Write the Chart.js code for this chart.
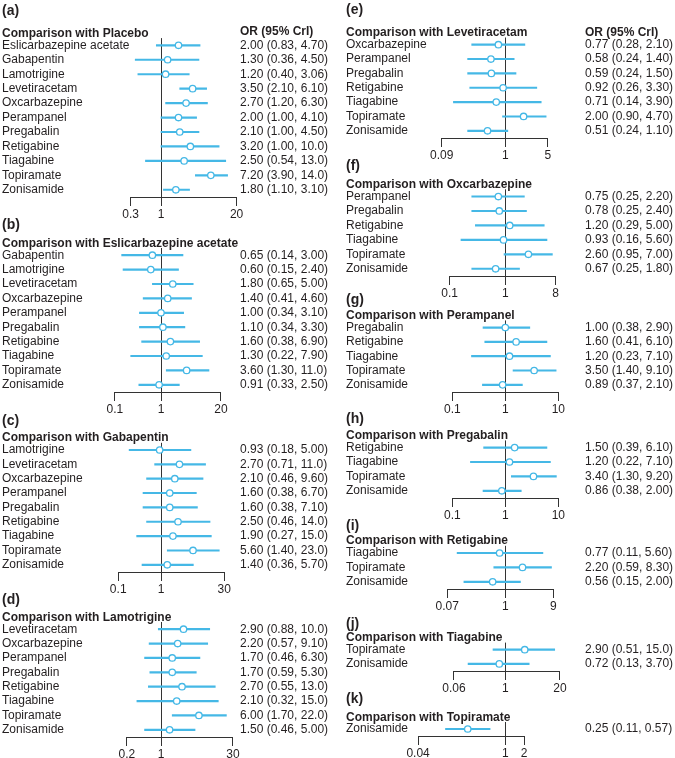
<!DOCTYPE html>
<html><head><meta charset="utf-8">
<script src="https://cdn.jsdelivr.net/npm/chart.js@4/dist/chart.umd.min.js"></script>
<style>
html,body{margin:0;padding:0;background:#fff;}
#fig{position:relative;width:675px;height:758px;overflow:hidden;background:#fff;}
#fig canvas{position:absolute;}
</style></head><body><div id="fig"></div>
<script>
// ---------- DATA ----------
const panelLetters = ['(a)','(b)','(c)','(d)','(e)','(f)','(g)','(h)','(i)','(j)','(k)'];
const comparators = ['Placebo','Eslicarbazepine acetate','Gabapentin','Lamotrigine','Levetiracetam','Oxcarbazepine','Perampanel','Pregabalin','Retigabine','Tiagabine','Topiramate'];
const orHeaderText = 'OR (95% CrI)';

const drugsA = ['Eslicarbazepine acetate','Gabapentin','Lamotrigine','Levetiracetam','Oxcarbazepine','Perampanel','Pregabalin','Retigabine','Tiagabine','Topiramate','Zonisamide'];
const orA   = [2.00, 1.30, 1.20, 3.50, 2.70, 2.00, 2.10, 3.20, 2.50, 7.20, 1.80];
const lowA  = [0.83, 0.36, 0.40, 2.10, 1.20, 1.00, 1.00, 1.00, 0.54, 3.90, 1.10];
const highA = [4.70, 4.50, 3.06, 6.10, 6.30, 4.10, 4.50, 10.0, 13.0, 14.0, 3.10];
const ticksA = [0.3, 1, 20];

const drugsB = ['Gabapentin','Lamotrigine','Levetiracetam','Oxcarbazepine','Perampanel','Pregabalin','Retigabine','Tiagabine','Topiramate','Zonisamide'];
const orB   = [0.65, 0.60, 1.80, 1.40, 1.00, 1.10, 1.60, 1.30, 3.60, 0.91];
const lowB  = [0.14, 0.15, 0.65, 0.41, 0.34, 0.34, 0.38, 0.22, 1.30, 0.33];
const highB = [3.00, 2.40, 5.00, 4.60, 3.10, 3.30, 6.90, 7.90, 11.0, 2.50];
const ticksB = [0.1, 1, 20];

const drugsC = ['Lamotrigine','Levetiracetam','Oxcarbazepine','Perampanel','Pregabalin','Retigabine','Tiagabine','Topiramate','Zonisamide'];
const orC   = [0.93, 2.70, 2.10, 1.60, 1.60, 2.50, 1.90, 5.60, 1.40];
const lowC  = [0.18, 0.71, 0.46, 0.38, 0.38, 0.46, 0.27, 1.40, 0.36];
const highC = [5.00, 11.0, 9.60, 6.70, 7.10, 14.0, 15.0, 23.0, 5.70];
const ticksC = [0.1, 1, 30];

const drugsD = ['Levetiracetam','Oxcarbazepine','Perampanel','Pregabalin','Retigabine','Tiagabine','Topiramate','Zonisamide'];
const orD   = [2.90, 2.20, 1.70, 1.70, 2.70, 2.10, 6.00, 1.50];
const lowD  = [0.88, 0.57, 0.46, 0.59, 0.55, 0.32, 1.70, 0.46];
const highD = [10.0, 9.10, 6.30, 5.30, 13.0, 15.0, 22.0, 5.00];
const ticksD = [0.2, 1, 30];

const drugsE = ['Oxcarbazepine','Perampanel','Pregabalin','Retigabine','Tiagabine','Topiramate','Zonisamide'];
const orE   = [0.77, 0.58, 0.59, 0.92, 0.71, 2.00, 0.51];
const lowE  = [0.28, 0.24, 0.24, 0.26, 0.14, 0.90, 0.24];
const highE = [2.10, 1.40, 1.50, 3.30, 3.90, 4.70, 1.10];
const ticksE = [0.09, 1, 5];

const drugsF = ['Perampanel','Pregabalin','Retigabine','Tiagabine','Topiramate','Zonisamide'];
const orF   = [0.75, 0.78, 1.20, 0.93, 2.60, 0.67];
const lowF  = [0.25, 0.25, 0.29, 0.16, 0.95, 0.25];
const highF = [2.20, 2.40, 5.00, 5.60, 7.00, 1.80];
const ticksF = [0.1, 1, 8];

const drugsG = ['Pregabalin','Retigabine','Tiagabine','Topiramate','Zonisamide'];
const orG   = [1.00, 1.60, 1.20, 3.50, 0.89];
const lowG  = [0.38, 0.41, 0.23, 1.40, 0.37];
const highG = [2.90, 6.10, 7.10, 9.10, 2.10];
const ticksG = [0.1, 1, 10];

const drugsH = ['Retigabine','Tiagabine','Topiramate','Zonisamide'];
const orH   = [1.50, 1.20, 3.40, 0.86];
const lowH  = [0.39, 0.22, 1.30, 0.38];
const highH = [6.10, 7.10, 9.20, 2.00];
const ticksH = [0.1, 1, 10];

const drugsI = ['Tiagabine','Topiramate','Zonisamide'];
const orI   = [0.77, 2.20, 0.56];
const lowI  = [0.11, 0.59, 0.15];
const highI = [5.60, 8.30, 2.00];
const ticksI = [0.07, 1, 9];

const drugsJ = ['Topiramate','Zonisamide'];
const orJ   = [2.90, 0.72];
const lowJ  = [0.51, 0.13];
const highJ = [15.0, 3.70];
const ticksJ = [0.06, 1, 20];

const drugsK = ['Zonisamide'];
const orK   = [0.25];
const lowK  = [0.11];
const highK = [0.57];
const ticksK = [0.04, 1, 2];

// ---------- LAYOUT / STYLE ----------
const FONT = "'Liberation Sans', Arial, Helvetica, sans-serif";
const BLUE = '#45B8E6';
const INK = '#231F20';
const AXIS = '#333333';
const BAND = 14.4, AXW = 106, XH = 28;
const COLS = [
  {left: 0,   width: 335, padL: 2,  oneX: 161,   orX: 240},
  {left: 335, width: 340, padL: 11, oneX: 170.3, orX: 250}
];
const PANELS = [
  {col:0, labelY:10,    headerY:32,    axisY:196.5, showOR:true,  d:[drugsA,orA,lowA,highA,ticksA]},
  {col:0, labelY:221.7, headerY:240,   axisY:391.7, showOR:false, d:[drugsB,orB,lowB,highB,ticksB]},
  {col:0, labelY:418.3, headerY:435,   axisY:572.7, showOR:false, d:[drugsC,orC,lowC,highC,ticksC]},
  {col:0, labelY:596.5, headerY:613.3, axisY:736.7, showOR:false, d:[drugsD,orD,lowD,highD,ticksD]},
  {col:1, labelY:10,    headerY:32.3,  axisY:138.3, showOR:true,  d:[drugsE,orE,lowE,highE,ticksE]},
  {col:1, labelY:163.3, headerY:181.7, axisY:276,   showOR:false, d:[drugsF,orF,lowF,highF,ticksF]},
  {col:1, labelY:298.3, headerY:314,   axisY:392.7, showOR:false, d:[drugsG,orG,lowG,highG,ticksG]},
  {col:1, labelY:418.3, headerY:434.3, axisY:498.3, showOR:false, d:[drugsH,orH,lowH,highH,ticksH]},
  {col:1, labelY:523.3, headerY:537.7, axisY:589.3, showOR:false, d:[drugsI,orI,lowI,highI,ticksI]},
  {col:1, labelY:623.3, headerY:637.3, axisY:671.7, showOR:false, d:[drugsJ,orJ,lowJ,highJ,ticksJ]},
  {col:1, labelY:698.3, headerY:716,   axisY:736.7, showOR:false, d:[drugsK,orK,lowK,highK,ticksK]}
];

function fmt(v){ return v >= 10 ? v.toFixed(1) : v.toFixed(2); }

const orHeaderPlugin = {
  id: 'orHeader',
  afterDraw(chart, args, opts) {
    if (!opts || !opts.show) return;
    const ctx = chart.ctx;
    ctx.save();
    ctx.font = 'bold 12px ' + FONT;
    ctx.fillStyle = INK;
    ctx.textAlign = 'left';
    ctx.textBaseline = 'middle';
    ctx.fillText(opts.text, opts.x, opts.y);
    ctx.restore();
  }
};

const fig = document.getElementById('fig');

PANELS.forEach((sp, idx) => {
  const [drugs, or, low, high, ticks] = sp.d;
  const col = COLS[sp.col];
  const n = drugs.length;
  const top = sp.labelY - 10;
  const height = Math.round(sp.axisY - top + XH);
  const chartTopRel = sp.axisY - n * BAND - top;
  const lmin = ticks[0], lmax = ticks[ticks.length - 1];
  const frac = Math.log(1 / lmin) / Math.log(lmax / lmin);
  const chartLeft = col.oneX - AXW * frac;
  const chartRight = chartLeft + AXW;

  const TITLE_LH = 14 * 1.2;
  const pT = 10 - TITLE_LH / 2;
  const titleBottom = pT + TITLE_LH;
  const SUB_LH = 12 * 0.8;
  const headerRel = sp.headerY - top;
  const pS = Math.max(0, headerRel - SUB_LH / 2 - titleBottom);
  const subBottom = titleBottom + pS + SUB_LH;
  const padTop = Math.max(0, chartTopRel - subBottom);

  const canvas = document.createElement('canvas');
  canvas.width = col.width; canvas.height = height;
  canvas.style.left = col.left + 'px';
  canvas.style.top = top + 'px';
  canvas.style.width = col.width + 'px';
  canvas.style.height = height + 'px';
  fig.appendChild(canvas);

  new Chart(canvas, {
    type: 'bar',
    data: {
      labels: drugs,
      datasets: [
        {
          type: 'scatter',
          data: or.map((v, i) => ({x: v, y: i})),
          pointRadius: 3.2,
          pointBorderWidth: 1.3,
          pointBackgroundColor: '#ffffff',
          pointBorderColor: BLUE,
          xAxisID: 'x', yAxisID: 'y',
          order: 0
        },
        {
          type: 'bar',
          data: low.map((l, i) => [l, high[i]]),
          backgroundColor: BLUE,
          borderWidth: 0,
          barThickness: 1.5,
          xAxisID: 'x', yAxisID: 'y',
          order: 1
        }
      ]
    },
    options: {
      indexAxis: 'y',
      responsive: false,
      animation: false,
      devicePixelRatio: 1,
      events: [],
      layout: {padding: {left: col.padL, right: 0, top: padTop, bottom: 0}},
      plugins: {
        legend: {display: false},
        tooltip: {enabled: false},
        title: {
          display: true, text: panelLetters[idx], align: 'start', color: INK,
          font: {family: FONT, size: 14, weight: 'bold', lineHeight: 1.2},
          padding: {top: pT, bottom: 0}
        },
        subtitle: {
          display: true, text: 'Comparison with ' + comparators[idx], align: 'start', color: INK,
          font: {family: FONT, size: 12, weight: 'bold', lineHeight: 0.8},
          padding: {top: pS, bottom: 0}
        },
        orHeader: {show: sp.showOR, text: orHeaderText, x: col.orX, y: headerRel}
      },
      scales: {
        x: {
          type: 'logarithmic', position: 'bottom', min: lmin, max: lmax,
          afterBuildTicks: s => { s.ticks = ticks.map(v => ({value: v})); },
          afterFit: s => { s.height = XH; },
          ticks: {
            autoSkip: false, maxRotation: 0, minRotation: 0, color: INK, padding: 1,
            font: {family: FONT, size: 12},
            callback: v => String(v)
          },
          grid: {
            display: true, drawOnChartArea: true, drawTicks: true,
            color: c => (c.tick && c.tick.value === 1) ? AXIS : 'rgba(0,0,0,0)',
            tickColor: AXIS, tickLength: 9, lineWidth: 1
          },
          border: {display: true, color: AXIS, width: 1}
        },
        y: {
          type: 'category', position: 'left', offset: true,
          afterFit: s => { s.width = chartLeft - col.padL; s.paddingTop = 0; s.paddingBottom = 0; },
          grid: {display: false, drawTicks: false},
          border: {display: false},
          ticks: {autoSkip: false, crossAlign: 'far', padding: 0, color: INK, font: {family: FONT, size: 12}}
        },
        y2: {
          type: 'category', position: 'right', offset: true,
          labels: or.map((v, i) => fmt(v) + ' (' + fmt(low[i]) + ', ' + fmt(high[i]) + ')'),
          afterFit: s => { s.width = col.width - chartRight; s.paddingTop = 0; s.paddingBottom = 0; },
          grid: {display: false, drawTicks: false},
          border: {display: false},
          ticks: {autoSkip: false, padding: col.orX - chartRight, color: INK, font: {family: FONT, size: 12}}
        }
      }
    },
    plugins: [orHeaderPlugin]
  });
});
</script>
</body></html>
